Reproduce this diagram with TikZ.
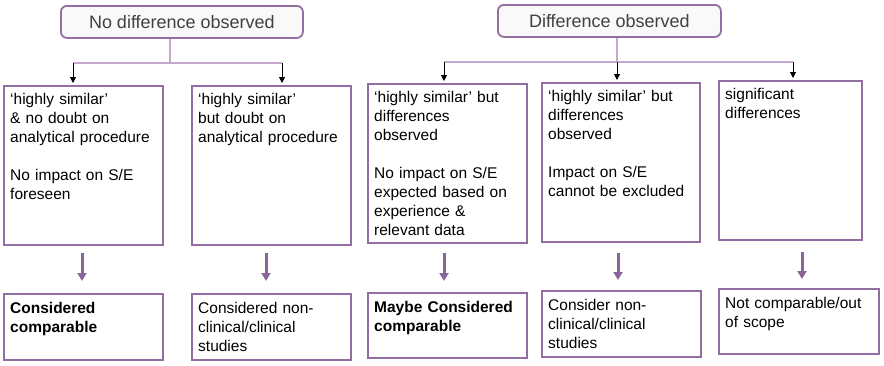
\documentclass[tikz,border=0pt]{standalone}
\usepackage{fontspec}
\setmainfont{Liberation Sans}
\usetikzlibrary{arrows.meta}
\definecolor{pborder}{RGB}{146,110,162}
\definecolor{pline}{RGB}{196,168,206}
\definecolor{parr}{RGB}{140,100,156}
\definecolor{tgray}{RGB}{64,64,64}
\definecolor{tfill}{RGB}{249,249,249}
\begin{document}
\begin{tikzpicture}[x=1pt,y=-1pt,
  topbox/.style={draw=pborder,line width=1.8pt,rounded corners=6pt,fill=tfill,anchor=north west,inner sep=0,
    font=\fontsize{18}{21}\selectfont,text=tgray},
  box/.style={draw=pborder,line width=1.5pt,anchor=north west,inner sep=0},
  txt/.style={anchor=north west,inner sep=0,text width=158pt,align=left,font=\fontsize{15.5}{19}\selectfont},
  txtb/.style={txt,font=\fontsize{15.5}{19}\selectfont\bfseries},
  stem/.style={draw=pline,line width=1.2pt},
  barrow/.style={draw=black,line width=1pt,-{Triangle[width=6pt,length=6pt]},shorten >=2pt},
  parrow/.style={draw=parr,line width=3pt,-{Triangle[width=9pt,length=8pt]}}]
\useasboundingbox (0,0) rectangle (884,365);

% top boxes
\node[topbox,minimum width=242pt,minimum height=32pt] (t1) at (60,5) {No difference observed};
\node[topbox,minimum width=223pt,minimum height=32pt] (t2) at (497,4) {Difference observed};

% middle boxes
\node[box,minimum width=159pt,minimum height=159pt] (mA) at (3,85) {};
\node[box,minimum width=159pt,minimum height=159pt] (mB) at (191,85) {};
\node[box,minimum width=159pt,minimum height=159pt] (mC) at (367,83) {};
\node[box,minimum width=158pt,minimum height=159pt] (mD) at (541,82) {};
\node[box,minimum width=143pt,minimum height=159pt] (mE) at (718,80) {};

% bottom boxes
\node[box,minimum width=159pt,minimum height=66pt] (rA) at (3,293) {};
\node[box,minimum width=159pt,minimum height=66pt] (rB) at (191,293) {};
\node[box,minimum width=159pt,minimum height=65pt] (rC) at (367,292) {};
\node[box,minimum width=159pt,minimum height=66pt] (rD) at (541,290) {};
\node[box,minimum width=160pt,minimum height=65pt] (rE) at (718,288) {};

% texts
\node[txt] (tA) at ([shift={(7,8)}]mA.north west) {‘highly similar’\\\& no doubt on\\analytical procedure\\[19pt]No impact on S/E\\foreseen};
\node[txt] (tB) at ([shift={(7,8)}]mB.north west) {‘highly similar’\\but doubt on\\analytical procedure};
\node[txt] (tC) at ([shift={(7,8)}]mC.north west) {‘highly similar’ but\\differences\\observed\\[19pt]No impact on S/E\\expected based on\\experience \&\\relevant data};
\node[txt] (tD) at ([shift={(7,8)}]mD.north west) {‘highly similar’ but\\differences\\observed\\[19pt]Impact on S/E\\cannot be excluded};
\node[txt] (tE) at ([shift={(7,8)}]mE.north west) {significant\\differences};

\node[txtb] (uA) at ([shift={(7,9)}]rA.north west) {Considered\\comparable};
\node[txt] (uB) at ([shift={(7,9)}]rB.north west) {Considered non-\\clinical/clinical\\studies};
\node[txtb] (uC) at ([shift={(7,9)}]rC.north west) {Maybe Considered\\comparable};
\node[txt] (uD) at ([shift={(7,9)}]rD.north west) {Consider non-\\clinical/clinical\\studies};
\node[txt] (uE) at ([shift={(7,9)}]rE.north west) {Not comparable/out\\of scope};

% left tree
\coordinate (j1) at (170,63);
\coordinate (l1) at (73,63);
\coordinate (r1) at (282,63);
\draw[stem] (t1.south -| j1) -- (j1);
\draw[stem] (l1) -- (r1);
\draw[barrow] (l1) -- (l1 |- mA.north);
\draw[barrow] (r1) -- (r1 |- mB.north);

% right tree
\coordinate (j2) at (617,62);
\coordinate (l2) at (444,62);
\coordinate (r2) at (793,62);
\draw[stem] (t2.south -| j2) -- (j2);
\draw[stem] (l2) -- (r2);
\draw[barrow] (l2) -- (l2 |- mC.north);
\draw[barrow] (j2) -- (j2 |- mD.north);
\draw[barrow] (r2) -- (r2 |- mE.north);

% purple arrows
\coordinate (pa1) at (82,253);  \coordinate (pb1) at (82,281);
\coordinate (pa2) at (266,253); \coordinate (pb2) at (266,281);
\coordinate (pa3) at (444,253); \coordinate (pb3) at (444,281);
\coordinate (pa4) at (618,253); \coordinate (pb4) at (618,280);
\coordinate (pa5) at (802,252); \coordinate (pb5) at (802,279);
\draw[parrow] (pa1) -- (pb1);
\draw[parrow] (pa2) -- (pb2);
\draw[parrow] (pa3) -- (pb3);
\draw[parrow] (pa4) -- (pb4);
\draw[parrow] (pa5) -- (pb5);
\end{tikzpicture}
\end{document}
